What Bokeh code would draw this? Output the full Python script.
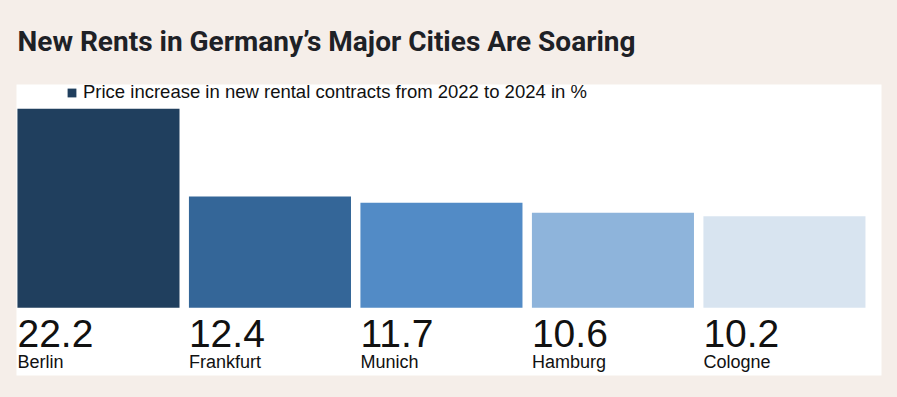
from bokeh.plotting import figure
from bokeh.models import ColumnDataSource, Range1d, Legend, LegendItem
from bokeh.core.properties import value
from bokeh.embed import file_html
from bokeh.resources import INLINE

cities = ["Berlin", "Frankfurt", "Munich", "Hamburg", "Cologne"]
increase = [22.2, 12.4, 11.7, 10.6, 10.2]
colors = ["#203F5E", "#346698", "#528BC6", "#8EB4DB", "#D8E4F0"]
title_text = "New Rents in Germany\u2019s Major Cities Are Soaring"
legend_text = "Price increase in new rental contracts from 2022 to 2024 in %"

BG = "#F5EEE9"
idx = list(range(len(cities)))
bar_w = 0.945
src = ColumnDataSource(dict(
    x=idx, top=increase, color=colors, city=cities,
    val=[f"{v:.1f}" for v in increase],
    lx=[i - bar_w / 2 for i in idx],
))

p = figure(width=897, height=397, output_backend="svg", toolbar_location=None,
           x_range=Range1d(-0.478, 4.566), y_range=Range1d(-7.556, 24.89),
           min_border_left=16, min_border_right=16, min_border_top=83, min_border_bottom=22)
p.background_fill_color = "white"
p.border_fill_color = BG
p.outline_line_color = None
p.xaxis.visible = False
p.yaxis.visible = False
p.grid.visible = False

r = p.vbar(x="x", top="top", bottom=0, width=bar_w, fill_color="color", line_color=None, source=src)

p.text(x="lx", y=0, text="val", source=src, text_font=value("Liberation Sans"),
       text_font_size="39px", text_color="#111111", text_baseline="alphabetic",
       text_align="left", y_offset=26, x_offset=0)
p.text(x="lx", y=0, text="city", source=src, text_font=value("Liberation Sans"),
       text_font_size="18px", text_color="#111111", text_baseline="alphabetic",
       text_align="left", y_offset=54)

p.title.text = title_text
p.title.text_font = "Roboto"
p.title.text_font_style = "bold"
p.title.text_font_size = "28px"
p.title.text_color = "#1E2126"
p.title.align = "left"
p.title.vertical_align = "top"
p.title.offset = 1
p.title.standoff = 49

legend = Legend(items=[LegendItem(label=legend_text, renderers=[r], index=0)],
                location=(50, 272), orientation="horizontal",
                label_text_font="Liberation Sans", label_text_font_size="18.5px",
                label_text_color="#111111", glyph_width=11, glyph_height=11,
                label_standoff=6, padding=0, margin=0, spacing=0,
                border_line_color=None, background_fill_alpha=0)
p.add_layout(legend, "center")

html = file_html(p, INLINE)
html = html.replace("<head>", "<head><style>html,body{background:%s;margin:0;}</style>" % BG, 1)
open("out.html", "w").write(html)
